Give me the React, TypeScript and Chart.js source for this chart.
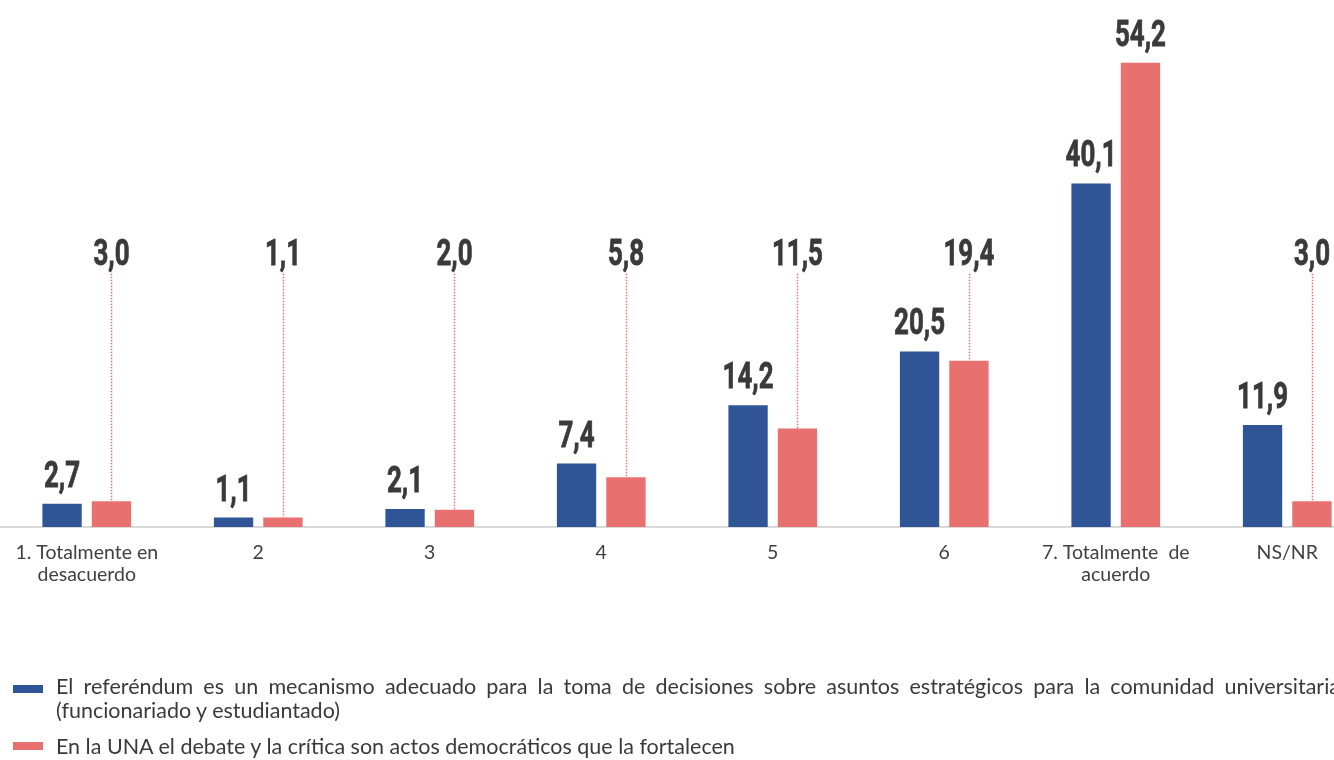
import React, { useEffect, useRef } from "react";
import { Chart, registerables } from "chart.js";

Chart.register(...registerables);

// ---- Data ----
const categories: (string | string[])[] = [
  ["1. Totalmente en", "desacuerdo"],
  "2",
  "3",
  "4",
  "5",
  "6",
  ["7. Totalmente  de", "acuerdo"],
  "NS/NR",
];
const referendumValues = [2.7, 1.1, 2.1, 7.4, 14.2, 20.5, 40.1, 11.9];
const debateValues = [3.0, 1.1, 2.0, 5.8, 11.5, 19.4, 54.2, 3.0];
const seriesLabels = [
  "El referéndum es un mecanismo adecuado para la toma de decisiones sobre asuntos estratégicos para la comunidad universitaria (funcionariado y estudiantado)",
  "En la UNA el debate y la crítica son actos democráticos que la fortalecen",
];

// ---- Style ----
const BLUE = "#2f5597";
const RED = "#e8716f";
const LABEL_COLOR = "#3a3a3a";
const TEXT_COLOR = "#404040";
const LEADER_LEVEL = 30.6; // value-axis level where the leader labels sit
const CANVAS_W = 1374;
const CANVAS_H = 760;

const fmt = (v: number) => v.toFixed(1).replace(".", ",");

function drawCondensed(ctx: CanvasRenderingContext2D, text: string, x: number, baseline: number) {
  ctx.save();
  ctx.translate(x, baseline);
  ctx.scale(0.72, 1);
  ctx.font = "700 36px Roboto";
  ctx.textAlign = "center";
  ctx.textBaseline = "alphabetic";
  ctx.fillStyle = LABEL_COLOR;
  ctx.strokeStyle = LABEL_COLOR;
  ctx.lineWidth = 0.8;
  ctx.fillText(text, 0, 0);
  ctx.strokeText(text, 0, 0);
  ctx.restore();
}

const valueLabelsPlugin = {
  id: "valueLabels",
  afterDatasetsDraw(chart: any) {
    const ctx: CanvasRenderingContext2D = chart.ctx;
    const yScale = chart.scales.y;
    const leaderBase = yScale.getPixelForValue(LEADER_LEVEL);
    chart.data.datasets.forEach((ds: any, di: number) => {
      const meta = chart.getDatasetMeta(di);
      meta.data.forEach((bar: any, i: number) => {
        const v = ds.data[i] as number;
        const text = fmt(v);
        let baseline = bar.y - 17;
        if (di === 1 && baseline > leaderBase) {
          baseline = leaderBase;
          ctx.save();
          ctx.strokeStyle = RED;
          ctx.lineWidth = 1.5;
          ctx.setLineDash([1.5, 1.5]);
          ctx.beginPath();
          ctx.moveTo(Math.round(bar.x) + 0.5, leaderBase + 9);
          ctx.lineTo(Math.round(bar.x) + 0.5, bar.y);
          ctx.stroke();
          ctx.restore();
        }
        drawCondensed(ctx, text, bar.x, baseline);
      });
    });
  },
};

export default function App() {
  const canvasRef = useRef<HTMLCanvasElement | null>(null);

  useEffect(() => {
    if (!canvasRef.current) return;
    const chart = new Chart(canvasRef.current, {
      type: "bar",
      data: {
        labels: categories,
        datasets: [
          {
            label: seriesLabels[0],
            data: referendumValues,
            backgroundColor: BLUE,
            categoryPercentage: 0.576,
            barPercentage: 0.796,
          },
          {
            label: seriesLabels[1],
            data: debateValues,
            backgroundColor: RED,
            categoryPercentage: 0.576,
            barPercentage: 0.796,
          },
        ],
      },
      options: {
        responsive: false,
        animation: false,
        devicePixelRatio: 1,
        layout: { padding: { top: 13, left: 1, right: 1, bottom: 0 } },
        plugins: {
          legend: { display: false },
          tooltip: { enabled: false },
        },
        scales: {
          x: {
            grid: { display: false, drawTicks: false },
            border: { display: true, color: "#d9d9d9", width: 2 },
            ticks: {
              color: TEXT_COLOR,
              font: { family: "Lato", size: 19.5, lineHeight: 1.13 },
              padding: 15,
              maxRotation: 0,
              autoSkip: false,
            },
            afterFit: (scale: any) => {
              scale.height = 233;
            },
          },
          y: {
            display: false,
            min: 0,
            max: 60,
          },
        },
      },
      plugins: [valueLabelsPlugin],
    });
    return () => chart.destroy();
  }, []);

  const splitIdx = seriesLabels[0].indexOf(" (");
  const line1 = seriesLabels[0].slice(0, splitIdx);
  const line2 = seriesLabels[0].slice(splitIdx + 1);

  const textStyle: React.CSSProperties = {
    position: "absolute",
    fontFamily: "Lato, sans-serif",
    fontSize: 21.5,
    lineHeight: "25px",
    color: LABEL_COLOR,
    whiteSpace: "normal",
  };

  return (
    <div
      style={{
        position: "fixed",
        left: 0,
        top: 0,
        width: 1334,
        height: 760,
        overflow: "hidden",
        background: "#ffffff",
      }}
    >
      <canvas
        ref={canvasRef}
        width={CANVAS_W}
        height={CANVAS_H}
        style={{ position: "absolute", left: 0, top: 0, width: CANVAS_W, height: CANVAS_H }}
      />
      <div style={{ position: "absolute", left: 13, top: 685, width: 30, height: 8, background: BLUE }} />
      <div
        style={{
          ...textStyle,
          left: 56,
          top: 674,
          width: 1284,
          textAlign: "justify",
          textAlignLast: "justify",
        }}
      >
        {line1}
      </div>
      <div style={{ ...textStyle, left: 56, top: 698, whiteSpace: "nowrap" }}>{line2}</div>
      <div style={{ position: "absolute", left: 13, top: 742, width: 30, height: 8, background: RED }} />
      <div style={{ ...textStyle, left: 56, top: 734, whiteSpace: "nowrap" }}>{seriesLabels[1]}</div>
    </div>
  );
}
